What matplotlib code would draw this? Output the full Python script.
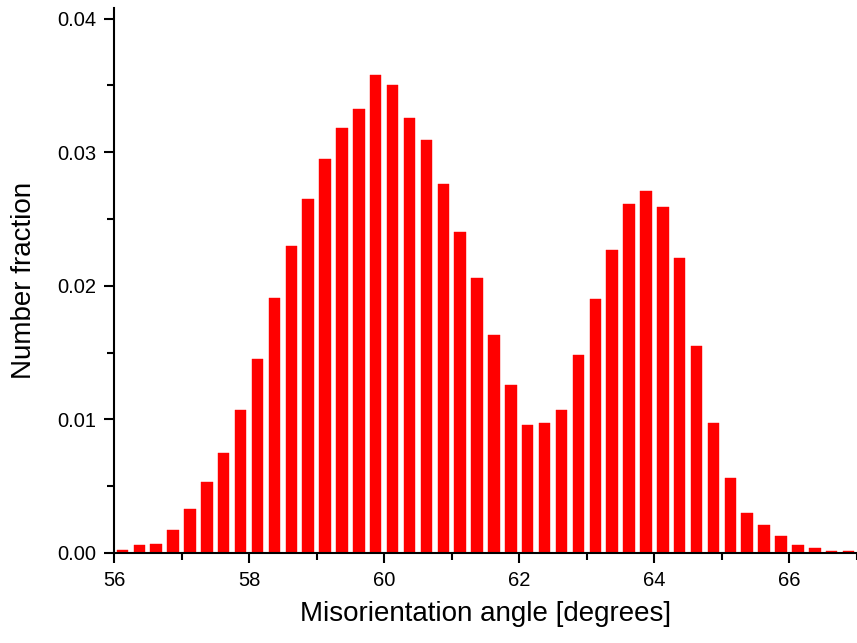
import numpy as np
import matplotlib
matplotlib.use("Agg")
import matplotlib.pyplot as plt
from matplotlib.ticker import MultipleLocator

# bin centres (0.25 deg bins) and number fractions
angle = [56.125, 56.375, 56.625, 56.875, 57.125, 57.375, 57.625, 57.875,
         58.125, 58.375, 58.625, 58.875, 59.125, 59.375, 59.625, 59.875,
         60.125, 60.375, 60.625, 60.875, 61.125, 61.375, 61.625, 61.875,
         62.125, 62.375, 62.625, 62.875, 63.125, 63.375, 63.625, 63.875,
         64.125, 64.375, 64.625, 64.875, 65.125, 65.375, 65.625, 65.875,
         66.125, 66.375, 66.625, 66.875]
fraction = [0.0002, 0.0006, 0.0007, 0.0017, 0.0033, 0.0053, 0.0075, 0.0107,
            0.0145, 0.0191, 0.0230, 0.0265, 0.0295, 0.0318, 0.0332, 0.0358,
            0.0350, 0.0326, 0.0309, 0.0276, 0.0240, 0.0206, 0.0163, 0.0126,
            0.0096, 0.0097, 0.0107, 0.0148, 0.0190, 0.0227, 0.0261, 0.0271,
            0.0259, 0.0221, 0.0155, 0.0097, 0.0056, 0.0030, 0.0021, 0.0013,
            0.0006, 0.0004, 0.00018, 0.00018]
xticks = [56, 58, 60, 62, 64, 66]
yticks = [0.00, 0.01, 0.02, 0.03, 0.04]

plt.rcParams['font.family'] = ['Liberation Sans', 'DejaVu Sans']

fig = plt.figure(figsize=(8.57, 6.43), dpi=100)
ax = fig.add_axes([0.133, 0.14, 0.867, 0.8476])

ax.bar(angle, fraction, width=0.17, color='#ff0000', edgecolor='#ff0000', linewidth=0.3)

ax.set_xlim(56, 67)
ax.set_ylim(0, 0.0408)
ax.set_xticks(xticks)
ax.set_yticks(yticks)
ax.set_yticklabels(['%.2f' % v for v in yticks])
ax.xaxis.set_minor_locator(MultipleLocator(1))
ax.yaxis.set_minor_locator(MultipleLocator(0.005))

for s in ['top', 'right']:
    ax.spines[s].set_visible(False)
for s in ['left', 'bottom']:
    ax.spines[s].set_linewidth(1.5)

ax.tick_params(which='major', direction='out', length=7, width=1.5, labelsize=14.5, pad=6)
ax.tick_params(which='minor', direction='out', length=5, width=1.5)

ax.set_xlabel('Misorientation angle [degrees]', fontsize=20, labelpad=8)
ax.set_ylabel('Number fraction', fontsize=20, labelpad=14)

fig.savefig('out.png', dpi=100)
